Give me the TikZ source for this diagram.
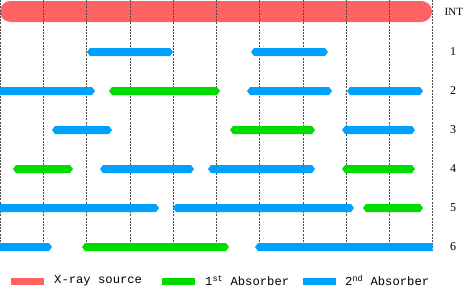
\documentclass[tikz,border=0pt]{standalone}
\usepackage{fontspec}
\setmainfont{Liberation Serif}
\setmonofont{Liberation Mono}
\definecolor{xraycol}{RGB}{255,98,98}
\definecolor{firstcol}{RGB}{0,220,0}
\definecolor{secondcol}{RGB}{0,160,255}
% one absorber bar: colour, row y, left x, right x, left tip, right tip
\newcommand{\absbar}[6]{%
  \fill[#1] (#3,#2) -- (#3+#5,#2-4) -- (#4-#6,#2-4) -- (#4,#2)
    -- (#4-#6,#2+4) -- (#3+#5,#2+4) -- cycle;}
\begin{document}
\begin{tikzpicture}[
    x=1pt, y=-1pt,
    grid/.style={gray!60!black, line width=0.4pt, dash pattern=on 2pt off 1.2pt},
    rowlabel/.style={anchor=center, font=\fontsize{12}{14}\selectfont, inner sep=0pt},
    legtext/.style={anchor=west, font=\ttfamily\fontsize{12.2}{14}\selectfont, inner sep=0pt},
    swatch/.style={minimum width=33pt, minimum height=7pt, inner sep=0pt}
]
    \useasboundingbox (0,0) rectangle (463,287);

    % source
    \fill[xraycol, rounded corners=10.5pt] (0,1) rectangle (432,22);

    % grid
    \foreach \i in {0,...,10}
        \draw[grid] (\i*43.25,0) -- (\i*43.25,251);

    % row 1
    \absbar{secondcol}{52}{87}{173}{3}{3}
    \absbar{secondcol}{52}{251}{328}{3}{3}
    % row 2
    \absbar{secondcol}{91}{0}{95}{0}{3}
    \absbar{firstcol}{91}{109}{220}{3}{3}
    \absbar{secondcol}{91}{247}{332}{3}{3}
    \absbar{secondcol}{91}{347}{423}{3}{3}
    % row 3
    \absbar{secondcol}{130}{52}{112}{3}{3}
    \absbar{firstcol}{130}{230}{315}{3}{3}
    \absbar{secondcol}{130}{342}{415}{3}{3}
    % row 4
    \absbar{firstcol}{169}{13}{73}{3}{3}
    \absbar{secondcol}{169}{100}{194}{3}{3}
    \absbar{secondcol}{169}{208}{315}{3}{3}
    \absbar{firstcol}{169}{342}{415}{3}{3}
    % row 5
    \absbar{secondcol}{208}{0}{159}{0}{3}
    \absbar{secondcol}{208}{173}{354}{3}{3}
    \absbar{firstcol}{208}{363}{423}{3}{3}
    % row 6
    \absbar{secondcol}{247}{0}{52}{0}{3}
    \absbar{firstcol}{247}{82}{229}{3}{3}
    \absbar{secondcol}{247}{255}{432.5}{3}{0}

    % row labels
    \node (lint) [rowlabel, anchor=west, font=\fontsize{11}{13}\selectfont] at (444.5,12) {INT};
    \foreach \r/\y in {1/52, 2/91, 3/130, 4/169, 5/208, 6/247}
        \node (l\r) [rowlabel] at (453,\y) {\r};

    % legend
    \node (swsrc) [swatch, fill=xraycol] at (27.5,281.5) {};
    \node (txsrc) [legtext] at (54,280.5) {X-ray source};
    \node (swfirst) [swatch, fill=firstcol] at (178.5,281.5) {};
    \node (txfirst) [legtext] at (205,280.5) {1\textsuperscript{st} Absorber};
    \node (swsecond) [swatch, fill=secondcol] at (319,281.5) {};
    \node (txsecond) [legtext] at (345,280.5) {2\textsuperscript{nd} Absorber};
\end{tikzpicture}
\end{document}
